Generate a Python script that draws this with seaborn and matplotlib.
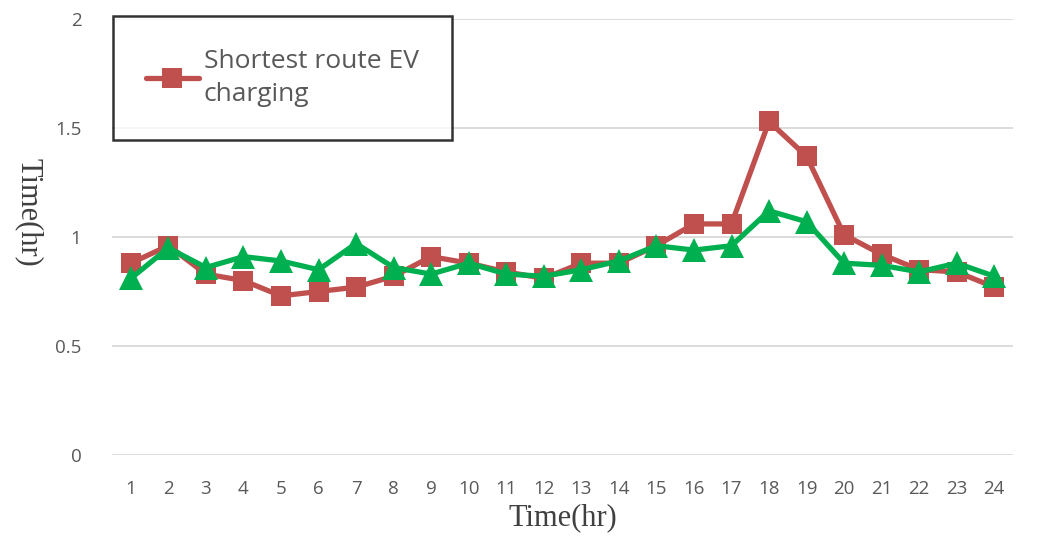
import pandas as pd
import matplotlib.pyplot as plt
import seaborn as sns

# Значения
hours = list(range(1, 25))
shortest_ev = [0.88, 0.96, 0.83, 0.80, 0.73, 0.75, 0.77, 0.82, 0.91, 0.88, 0.84, 0.81,
               0.88, 0.88, 0.96, 1.06, 1.06, 1.53, 1.37, 1.01, 0.92, 0.85, 0.84, 0.77]
other_route = [0.81, 0.95, 0.86, 0.91, 0.89, 0.85, 0.97, 0.86, 0.83, 0.88, 0.83, 0.82,
               0.85, 0.89, 0.96, 0.94, 0.96, 1.12, 1.07, 0.88, 0.87, 0.84, 0.88, 0.82]
y_ticks = [0, 0.5, 1, 1.5, 2]
y_tick_labels = ['0', '0.5', '1', '1.5', '2']

df = pd.DataFrame({'hour': hours, 'ev': shortest_ev, 'other': other_route})

sns.set_style('white')
fig = plt.figure(figsize=(10.52, 5.48), dpi=100)
ax = fig.add_axes([0.1065, 0.1697, 0.8565, 0.7956])

sns.lineplot(data=df, x='hour', y='ev', ax=ax, color='#C0504D', linewidth=3.8,
             marker='s', markersize=15, markeredgewidth=0, label='Shortest route EV\ncharging')
sns.lineplot(data=df, x='hour', y='other', ax=ax, color='#00B050', linewidth=3.8,
             marker='^', markersize=17, markeredgewidth=0, label='_nolegend_')

ax.set_xlim(0.5, 24.5)
ax.set_ylim(0, 2)
ax.set_xticks(hours)
ax.set_xticklabels([str(h) for h in hours])
ax.set_yticks(y_ticks)
ax.set_yticklabels(y_tick_labels)
ax.grid(axis='y', color='#d9d9d9', linewidth=1.3)
ax.set_axisbelow(True)
for s in ax.spines.values():
    s.set_visible(False)
ax.tick_params(axis='both', length=0, labelsize=13.5, labelcolor='#595959', pad=18)
for lab in ax.get_xticklabels() + ax.get_yticklabels():
    lab.set_family('Open Sans')
ax.tick_params(axis='y', pad=22)

ax.set_xlabel('Time(hr)', family='Liberation Serif', fontsize=22, color='#404040', labelpad=4)
ax.set_ylabel('Time(hr)', family='Liberation Serif', fontsize=22, color='#404040',
              rotation=270)
ax.yaxis.set_label_coords(-0.108, 0.557)

leg = ax.legend(loc='upper left', bbox_to_anchor=(0.001, 1.007), frameon=True, fancybox=False,
                edgecolor='black', prop={'family': 'Open Sans', 'size': 19},
                handlelength=2.0, borderpad=1.25, handletextpad=0.2, borderaxespad=0,
                labelspacing=0.3)
leg.get_frame().set_linewidth(1.8)
for t in leg.get_texts():
    t.set_color('#595959')
    t.set_linespacing(1.45)

fig.savefig('out.png', dpi=100)
